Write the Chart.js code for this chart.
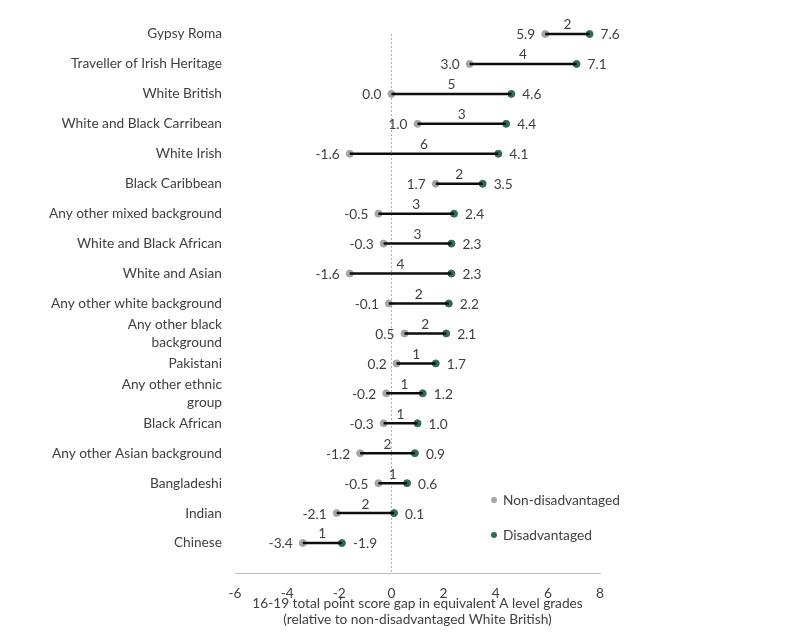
<!DOCTYPE html>
<html>
<head>
<meta charset="utf-8">
<script src="https://cdn.jsdelivr.net/npm/chart.js@4.4.1/dist/chart.umd.min.js"></script>
<style>
  html, body { margin: 0; padding: 0; background: #fff; }
  #wrap { width: 786px; height: 632px; }
</style>
</head>
<body>
<div id="wrap"><canvas id="chart" width="786" height="632"></canvas></div>
<script>
const groups = [
  'Gypsy Roma', 'Traveller of Irish Heritage', 'White British', 'White and Black Carribean',
  'White Irish', 'Black Caribbean', 'Any other mixed background', 'White and Black African',
  'White and Asian', 'Any other white background', ['Any other black', 'background'], 'Pakistani',
  ['Any other ethnic', 'group'], 'Black African', 'Any other Asian background', 'Bangladeshi',
  'Indian', 'Chinese'
]
const nonDisadvantaged = [5.9, 3.0, 0.0, 1.0, -1.6, 1.7, -0.5, -0.3, -1.6, -0.1, 0.5, 0.2, -0.2, -0.3, -1.2, -0.5, -2.1, -3.4]
const disadvantaged = [7.6, 7.1, 4.6, 4.4, 4.1, 3.5, 2.4, 2.3, 2.3, 2.2, 2.1, 1.7, 1.2, 1.0, 0.9, 0.6, 0.1, -1.9]
const gapLabels = [2, 4, 5, 3, 6, 2, 3, 3, 4, 2, 2, 1, 1, 1, 2, 1, 2, 1]
const xTitle = ['16-19 total point score gap in equivalent A level grades', '(relative to non-disadvantaged White British)']

const FONT = 'Lato, "Source Sans Pro", sans-serif'
const TEXT = '#404040'
const GREY = '#a6a6a6'
const GREEN = '#2e6b58'

// connecting lines, broken between rows
const connectors = []
groups.forEach((g, i) => {
  connectors.push({ x: nonDisadvantaged[i], y: i })
  connectors.push({ x: disadvantaged[i], y: i })
  connectors.push({ x: NaN, y: NaN })
})

const labelsPlugin = {
  id: 'dumbbellLabels',
  afterDatasetsDraw(chart) {
    const { ctx, scales: { x, y } } = chart
    ctx.save()
    ctx.font = '13.7px ' + FONT
    ctx.fillStyle = TEXT
    ctx.textBaseline = 'middle'
    groups.forEach((g, i) => {
      const py = y.getPixelForValue(i)
      const x1 = x.getPixelForValue(nonDisadvantaged[i])
      const x2 = x.getPixelForValue(disadvantaged[i])
      ctx.textAlign = 'right'
      ctx.fillText(nonDisadvantaged[i].toFixed(1), x1 - 10, py + 1)
      ctx.textAlign = 'left'
      ctx.fillText(disadvantaged[i].toFixed(1), x2 + 11, py + 1)
      ctx.textAlign = 'center'
      ctx.fillText(String(gapLabels[i]), (x1 + x2) / 2, py - 9)
    })
    // legend
    const items = [
      { text: 'Non-disadvantaged', color: GREY, y: 500 },
      { text: 'Disadvantaged', color: GREEN, y: 535 }
    ]
    items.forEach(it => {
      ctx.beginPath()
      ctx.fillStyle = it.color
      ctx.arc(494, it.y, 3, 0, Math.PI * 2)
      ctx.fill()
      ctx.fillStyle = TEXT
      ctx.textAlign = 'left'
      ctx.fillText(it.text, 503, it.y + 1)
    })
    ctx.restore()
  }
}

new Chart(document.getElementById('chart'), {
  type: 'scatter',
  data: {
    datasets: [
      {
        label: 'gap',
        data: connectors,
        showLine: true,
        spanGaps: false,
        borderColor: '#0d0d0d',
        borderWidth: 2.5,
        pointRadius: 0,
        clip: false
      },
      {
        label: 'Non-disadvantaged',
        data: nonDisadvantaged.map((v, i) => ({ x: v, y: i })),
        backgroundColor: GREY,
        borderColor: GREY,
        pointRadius: 3.5,
        clip: false
      },
      {
        label: 'Disadvantaged',
        data: disadvantaged.map((v, i) => ({ x: v, y: i })),
        backgroundColor: GREEN,
        borderColor: GREEN,
        pointRadius: 3.5,
        clip: false
      }
    ]
  },
  options: {
    responsive: false,
    animation: false,
    layout: { padding: { top: 34, right: 186, bottom: 0, left: 0 } },
    scales: {
      x: {
        type: 'linear',
        min: -6,
        max: 8,
        ticks: { stepSize: 2, color: TEXT, font: { family: FONT, size: 13.7 }, padding: 12 },
        grid: {
          drawTicks: false,
          color: ctx => (ctx.tick && ctx.tick.value === 0 ? '#b0b0b0' : 'rgba(0,0,0,0)'),
          lineWidth: 1
        },
        border: { display: true, color: '#bfbfbf', width: 1, dash: [2, 2] },
        title: {
          display: true,
          text: xTitle,
          color: TEXT,
          font: { family: FONT, size: 13.7, lineHeight: 1.18 },
          padding: { top: 0, bottom: 4 }
        },
        afterFit: s => { s.height = 59 }
      },
      y: {
        type: 'linear',
        min: 0,
        max: 18,
        reverse: true,
        ticks: {
          stepSize: 1,
          autoSkip: false,
          color: TEXT,
          font: { family: FONT, size: 13.7, lineHeight: 1.3 },
          padding: 13,
          callback: v => (groups[v] !== undefined ? groups[v] : '')
        },
        grid: { display: false, drawTicks: false },
        border: { display: false },
        afterFit: s => { s.width = 235 }
      }
    },
    plugins: {
      legend: { display: false },
      tooltip: { enabled: false }
    }
  },
  plugins: [labelsPlugin]
})
</script>
</body>
</html>
